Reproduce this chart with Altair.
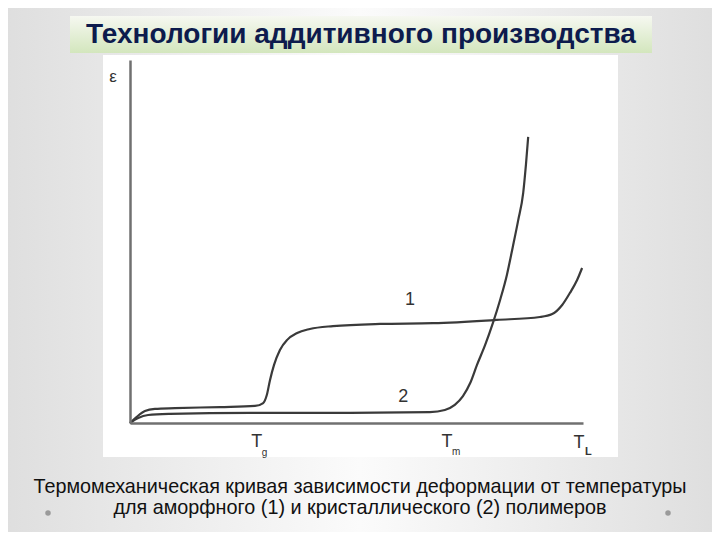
import altair as alt
import pandas as pd

# ---- data ----
# curve 1: amorphous polymer
c1_T = [0, 1.5, 3.3, 5.5, 9.9, 19.9, 27.6, 29.4, 30.2, 30.9, 31.8, 33.1, 34.7, 36.9, 39.7, 44.8, 55.2, 66.9, 81.0, 90.5, 93.2, 95.4, 97.1, 98.7, 99.8]
c1_e = [0, 1.7, 3.3, 3.9, 4.1, 4.4, 4.7, 5.5, 7.7, 11.8, 16.0, 20.1, 22.9, 24.8, 25.9, 26.7, 27.3, 27.5, 28.4, 29.2, 30.0, 32.5, 35.8, 39.4, 42.7]
# curve 2: crystalline polymer
c2_T = [0, 1.8, 4.0, 8.8, 26.5, 48.6, 66.2, 69.5, 71.7, 73.5, 75.1, 76.6, 78.4, 80.1, 81.7, 83.2, 84.5, 85.7, 86.8, 87.4, 87.9]
c2_e = [0, 1.4, 2.2, 2.5, 2.8, 2.8, 3.0, 3.6, 5.0, 7.4, 11.0, 16.0, 21.5, 27.5, 33.9, 40.8, 48.5, 55.9, 63.4, 71.1, 78.8]

label_text = ["ε", "1", "2", "T", "g", "T", "m", "T", "L"]
label_T = [-3.75, 61.8, 60.3, 28.0, 29.7, 70.0, 72.0, 99.1, 101.2]
label_e = [95.3, 33.9, 7.2, -5.2, -8.3, -5.2, -7.9, -5.4, -8.1]
label_size = [17, 18, 18, 18, 10, 18, 10, 18, 11]
label_bold = [False, False, False, False, False, False, False, False, True]

title_text = "Технологии аддитивного производства"
caption_lines = ["Термомеханическая кривая зависимости деформации от температуры",
                 "для аморфного (1) и кристаллического (2) полимеров"]

curves = pd.DataFrame({
    "T": c1_T + c2_T,
    "eps": c1_e + c2_e,
    "curve": ["1"] * len(c1_T) + ["2"] * len(c2_T),
})
labels = pd.DataFrame({"text": label_text, "T": label_T, "eps": label_e,
                       "size": label_size, "bold": label_bold})
one = pd.DataFrame({"a": [0]})

W, H = 453, 363
FONT = "Liberation Sans"

xs = alt.Scale(domain=[0, 100], nice=False, zero=False)
ys = alt.Scale(domain=[0, 100], nice=False, zero=False)

# ---- decorations (slide background, title box, white panel) ----
bg = alt.Chart(one).mark_rect(
    fill=alt.LinearGradient(gradient="linear", x1=0, x2=1, y1=0, y2=0,
                            stops=[alt.GradientStop(offset=0, color="#dedede"),
                                   alt.GradientStop(offset=0.5, color="#fbfbfb"),
                                   alt.GradientStop(offset=1, color="#dedede")])
).encode(x=alt.value(-130), x2=alt.value(590), y=alt.value(-60), y2=alt.value(480))

title_box = alt.Chart(one).mark_rect(
    fill=alt.LinearGradient(gradient="linear", x1=0, x2=0, y1=0, y2=1,
                            stops=[alt.GradientStop(offset=0, color="#f6f8f1"),
                                   alt.GradientStop(offset=1, color="#d3e6bd")])
).encode(x=alt.value(-60), x2=alt.value(522), y=alt.value(-44), y2=alt.value(-7))

panel = alt.Chart(one).mark_rect(fill="#ffffff").encode(
    x=alt.value(-27), x2=alt.value(488), y=alt.value(-5), y2=alt.value(397))

title = alt.Chart(one).mark_text(
    text=title_text, font=FONT, fontSize=28, fontWeight="bold", color="#0d1b4d",
    align="center", baseline="alphabetic"
).encode(x=alt.value(231), y=alt.value(-17))

cap1 = alt.Chart(one).mark_text(
    text=caption_lines[0], font=FONT, fontSize=19.8, color="#111111",
    align="center", baseline="alphabetic"
).encode(x=alt.value(230), y=alt.value(433))
cap2 = alt.Chart(one).mark_text(
    text=caption_lines[1], font=FONT, fontSize=19.8, color="#111111",
    align="center", baseline="alphabetic"
).encode(x=alt.value(230), y=alt.value(454))

bullets = alt.Chart(pd.DataFrame({"px": [-82, 538]})).mark_circle(
    color="#9a9a9a", size=30, opacity=1
).encode(x=alt.X("px:Q", scale=None), y=alt.value(453))

# ---- the chart itself ----
ax = dict(domain=True, domainColor="#707070", domainWidth=2.5, ticks=False,
          labels=False, grid=False, title=None, zindex=1)
lines = alt.Chart(curves).mark_line(strokeWidth=2.2, interpolate="monotone").encode(
    x=alt.X("T:Q", scale=xs, axis=alt.Axis(**ax)),
    y=alt.Y("eps:Q", scale=ys, axis=alt.Axis(**ax)),
    color=alt.Color("curve:N", scale=alt.Scale(range=["#3a3a3a", "#3a3a3a"]), legend=None),
    detail="curve:N",
)

text_base = alt.Chart(labels).encode(
    x=alt.X("T:Q", scale=xs, axis=alt.Axis(**ax)),
    y=alt.Y("eps:Q", scale=ys, axis=alt.Axis(**ax)),
    text="text:N",
    size=alt.Size("size:Q", scale=None, legend=None),
)
text_norm = text_base.mark_text(font=FONT, color="#333333", align="center",
                                baseline="middle").transform_filter("!datum.bold")
text_bold = text_base.mark_text(font=FONT, color="#333333", align="center", fontWeight="bold",
                                baseline="middle").transform_filter("datum.bold")

chart = alt.layer(bg, title_box, panel, title, cap1, cap2, bullets, lines,
                  text_norm, text_bold).properties(
    width=W, height=H,
    padding={"left": 122, "top": 52, "right": 129, "bottom": 109},
    autosize=alt.AutoSizeParams(type="none"),
    background="#e6e6e6",
).configure_view(stroke=None)

chart.save("out.html", embed_options={"renderer": "svg", "actions": False})
